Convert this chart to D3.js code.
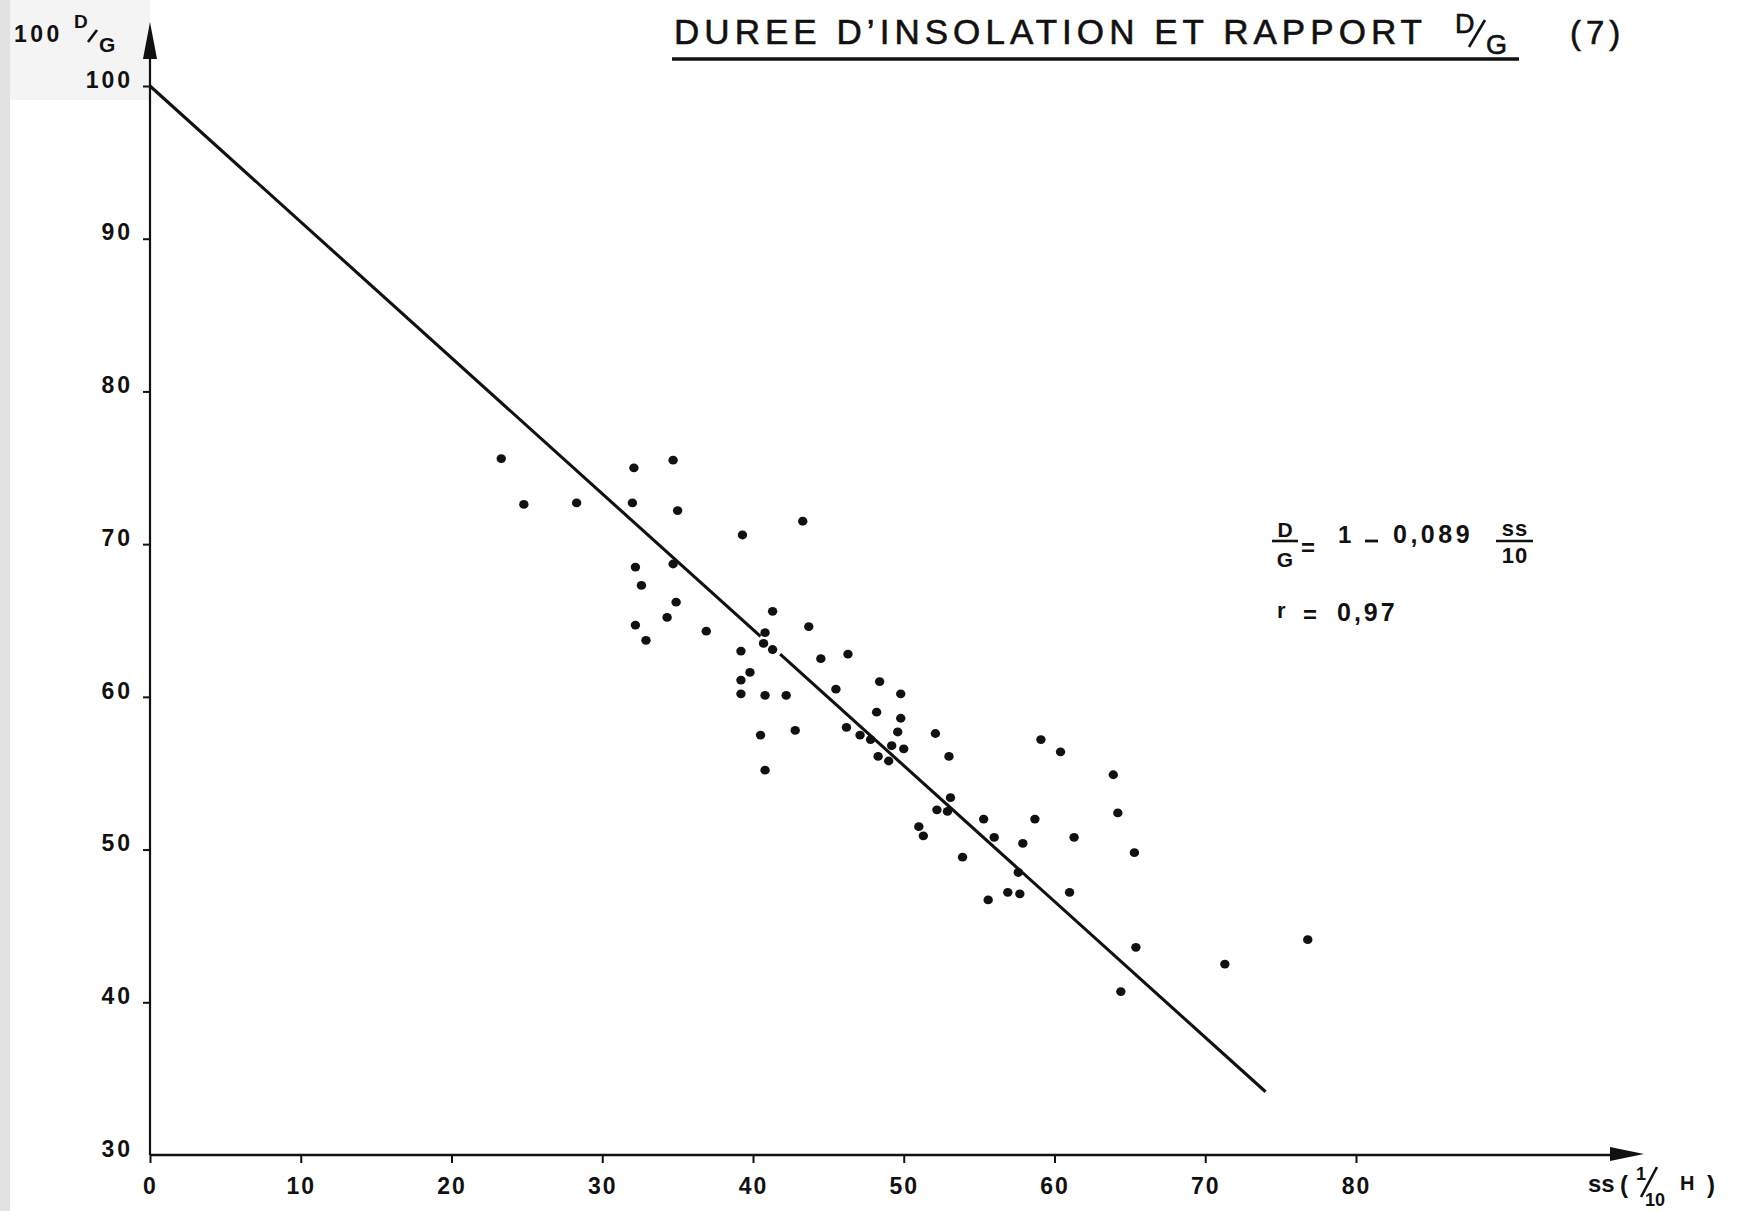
<!DOCTYPE html>
<html>
<head>
<meta charset="utf-8">
<script src="https://cdn.jsdelivr.net/npm/d3@7"></script>
<style>
  html, body { margin: 0; padding: 0; background: #fff; }
  svg { display: block; }
  text { fill: #111; }
</style>
</head>
<body>
<svg id="chart" width="1745" height="1211"></svg>
<script>
// Daily sunshine duration (tenths of hours) and diffuse / global ratio (%)
const ssValues = [
  23.3, 24.8, 28.3, 32.1, 34.7, 32.0, 35.0, 39.3, 43.3, 32.2,
  32.6, 34.7, 34.9, 32.2, 34.3, 32.9, 36.9, 41.3, 40.8, 40.7,
  41.3, 43.7, 39.2, 39.8, 39.2, 39.2, 40.8, 42.2, 44.5, 46.3,
  45.5, 40.5, 42.8, 40.8, 46.2, 47.1, 47.8, 48.4, 48.2, 48.3,
  49.8, 49.8, 49.6, 49.2, 50.0, 49.0, 52.1, 53.0, 59.1, 60.4,
  63.9, 64.2, 65.3, 53.1, 52.9, 52.2, 51.0, 51.3, 55.3, 56.0,
  58.7, 61.3, 57.9, 53.9, 57.6, 55.6, 56.9, 57.7, 61.0, 65.4,
  64.4, 71.3, 76.8
];
const dgValues = [
  75.6, 72.6, 72.7, 75.0, 75.5, 72.7, 72.2, 70.6, 71.5, 68.5,
  67.3, 68.7, 66.2, 64.7, 65.2, 63.7, 64.3, 65.6, 64.2, 63.5,
  63.1, 64.6, 63.0, 61.6, 61.1, 60.2, 60.1, 60.1, 62.5, 62.8,
  60.5, 57.5, 57.8, 55.2, 58.0, 57.5, 57.2, 61.0, 59.0, 56.1,
  60.2, 58.6, 57.7, 56.8, 56.6, 55.8, 57.6, 56.1, 57.2, 56.4,
  54.9, 52.4, 49.8, 53.4, 52.5, 52.6, 51.5, 50.9, 52.0, 50.8,
  52.0, 50.8, 50.4, 49.5, 48.5, 46.7, 47.2, 47.1, 47.2, 43.6,
  40.7, 42.5, 44.1
];

// Axis ticks
const xTicks = [0, 10, 20, 30, 40, 50, 60, 70, 80];
const yTicks = [30, 40, 50, 60, 70, 80, 90, 100];

// Fitted relation: 100 D/G = 100 (1 - 0,089 ss/10)
const fitIntercept = 100;
const fitSlope = -0.89;
const fitSegments = [[0, 40.5], [41.8, 74]];

const svg = d3.select("#chart");
const FONT = "'Liberation Sans', Arial, sans-serif";

const x = d3.scaleLinear().domain([0, 80]).range([150, 1356]);
const y = d3.scaleLinear().domain([30, 100]).range([1155, 86]);

// Faint paper tone along the left border
svg.append("rect").attr("x", 0).attr("y", 0).attr("width", 150).attr("height", 100).attr("fill", "#f4f4f4");
svg.append("rect").attr("x", 0).attr("y", 0).attr("width", 10).attr("height", 1211).attr("fill", "#e2e2e2");

// ---- axes ----
const axisX = svg.append("g")
  .attr("transform", `translate(0,${y(30)})`)
  .call(d3.axisBottom(x).tickValues(xTicks).tickSize(8).tickPadding(15).tickFormat(d3.format("d")));
axisX.select(".domain").remove();
axisX.selectAll(".tick line").attr("stroke", "#111").attr("stroke-width", 2);
axisX.selectAll(".tick text")
  .attr("font-family", FONT).attr("font-weight", "bold").attr("font-size", 23)
  .attr("letter-spacing", 2).attr("fill", "#111");

const axisY = svg.append("g")
  .attr("transform", `translate(${x(0)},0)`)
  .call(d3.axisLeft(y).tickValues(yTicks).tickSize(7).tickPadding(10).tickFormat(d3.format("d")));
axisY.select(".domain").remove();
axisY.selectAll(".tick line").attr("stroke", "#111").attr("stroke-width", 2)
  .filter(d => d === 30).remove();
axisY.selectAll(".tick text")
  .attr("font-family", FONT).attr("font-weight", "bold").attr("font-size", 23)
  .attr("letter-spacing", 3).attr("dy", "0.05em").attr("fill", "#111");

// axis lines with arrowheads
const yTop = 22;
const xEnd = 1644;
svg.append("line").attr("x1", x(0)).attr("y1", y(30)).attr("x2", x(0)).attr("y2", yTop + 20)
  .attr("stroke", "#111").attr("stroke-width", 2.2);
svg.append("path")
  .attr("d", `M${x(0)},${yTop} L${x(0) - 7},${yTop + 37} L${x(0) + 7},${yTop + 37} Z`)
  .attr("fill", "#111");
svg.append("line").attr("x1", x(0)).attr("y1", y(30)).attr("x2", xEnd - 20).attr("y2", y(30))
  .attr("stroke", "#111").attr("stroke-width", 2.4);
svg.append("path")
  .attr("d", `M${xEnd},${y(30) - 1} L${xEnd - 34},${y(30) - 8} L${xEnd - 34},${y(30) + 6} Z`)
  .attr("fill", "#111");

// ---- fitted line ----
const fitLine = d3.line().x(d => x(d)).y(d => y(fitIntercept + fitSlope * d));
svg.append("g").selectAll("path").data(fitSegments).join("path")
  .attr("d", seg => fitLine(seg))
  .attr("fill", "none").attr("stroke", "#111").attr("stroke-width", 3.1);

// ---- observations ----
svg.append("g").selectAll("ellipse").data(ssValues.map((s, i) => [s, dgValues[i]])).join("ellipse")
  .attr("cx", d => x(d[0])).attr("cy", d => y(d[1])).attr("rx", 4.7).attr("ry", 4.4)
  .attr("fill", "#111");

// ---- title ----
const title = svg.append("g").attr("font-family", FONT).attr("fill", "#111")
  .attr("stroke", "#111").attr("stroke-width", 0.6);
title.append("text").attr("x", 674).attr("y", 44)
  .attr("font-size", 35).attr("textLength", 748).attr("lengthAdjust", "spacing")
  .text("DUREE D’INSOLATION ET RAPPORT");
title.append("text").attr("x", 1455).attr("y", 33).attr("font-size", 27).text("D");
title.append("line").attr("x1", 1469).attr("y1", 47).attr("x2", 1485).attr("y2", 20)
  .attr("stroke-width", 2.6);
title.append("text").attr("x", 1486).attr("y", 54).attr("font-size", 27).text("G");
title.append("text").attr("x", 1570).attr("y", 44).attr("font-size", 33)
  .attr("letter-spacing", 5).text("(7)");
title.append("line").attr("x1", 672).attr("y1", 59).attr("x2", 1519).attr("y2", 59)
  .attr("stroke-width", 3.5);

// ---- y axis name: 100 D/G ----
const yName = svg.append("g").attr("font-family", FONT).attr("font-weight", "bold").attr("fill", "#111");
yName.append("text").attr("x", 14).attr("y", 42).attr("font-size", 23).attr("letter-spacing", 3.5).text("100");
yName.append("text").attr("x", 74).attr("y", 28).attr("font-size", 19).text("D");
yName.append("line").attr("x1", 88).attr("y1", 42).attr("x2", 97).attr("y2", 30)
  .attr("stroke", "#111").attr("stroke-width", 2.6);
yName.append("text").attr("x", 99).attr("y", 52).attr("font-size", 21).text("G");

// ---- x axis name: ss (1/10 H) ----
const xName = svg.append("g").attr("font-family", FONT).attr("font-weight", "bold").attr("fill", "#111");
xName.append("text").attr("x", 1588).attr("y", 1192).attr("font-size", 24).text("ss");
xName.append("text").attr("x", 1620).attr("y", 1193).attr("font-size", 24).text("(");
xName.append("text").attr("x", 1636).attr("y", 1180).attr("font-size", 18).text("1");
xName.append("line").attr("x1", 1641).attr("y1", 1197).attr("x2", 1657).attr("y2", 1167)
  .attr("stroke", "#111").attr("stroke-width", 2.6);
xName.append("text").attr("x", 1645).attr("y", 1206).attr("font-size", 18).text("10");
xName.append("text").attr("x", 1680).attr("y", 1190).attr("font-size", 20).text("H");
xName.append("text").attr("x", 1707).attr("y", 1193).attr("font-size", 24).text(")");

// ---- fitted relation and correlation ----
const eq = svg.append("g").attr("font-family", FONT).attr("fill", "#111");
eq.append("text").attr("x", 1285).attr("y", 537).attr("text-anchor", "middle").attr("font-size", 21).attr("font-weight", "bold").text("D");
eq.append("line").attr("x1", 1272).attr("y1", 541).attr("x2", 1298).attr("y2", 541).attr("stroke", "#111").attr("stroke-width", 2.6);
eq.append("text").attr("x", 1285).attr("y", 567).attr("text-anchor", "middle").attr("font-size", 21).attr("font-weight", "bold").text("G");
eq.append("text").attr("x", 1301).attr("y", 556).attr("font-size", 24).attr("font-weight", "bold").text("=");
eq.append("text").attr("x", 1338).attr("y", 543).attr("font-size", 24).attr("font-weight", "bold").text("1");
eq.append("line").attr("x1", 1365).attr("y1", 541).attr("x2", 1378).attr("y2", 541).attr("stroke", "#111").attr("stroke-width", 2.8);
eq.append("text").attr("x", 1393).attr("y", 543).attr("font-size", 25).attr("font-weight", "bold")
  .attr("letter-spacing", 3.5).text("0,089");
eq.append("text").attr("x", 1515).attr("y", 536).attr("text-anchor", "middle").attr("font-size", 22).attr("font-weight", "bold")
  .attr("letter-spacing", 1).text("ss");
eq.append("line").attr("x1", 1496).attr("y1", 541).attr("x2", 1533).attr("y2", 541).attr("stroke", "#111").attr("stroke-width", 2.6);
eq.append("text").attr("x", 1515).attr("y", 563).attr("text-anchor", "middle").attr("font-size", 22).attr("font-weight", "bold")
  .attr("letter-spacing", 1).text("10");
eq.append("text").attr("x", 1277).attr("y", 618).attr("font-size", 22).attr("font-weight", "bold").text("r");
eq.append("text").attr("x", 1303).attr("y", 623).attr("font-size", 24).attr("font-weight", "bold").text("=");
eq.append("text").attr("x", 1337).attr("y", 621).attr("font-size", 25).attr("font-weight", "bold")
  .attr("letter-spacing", 3).text("0,97");
</script>
</body>
</html>
